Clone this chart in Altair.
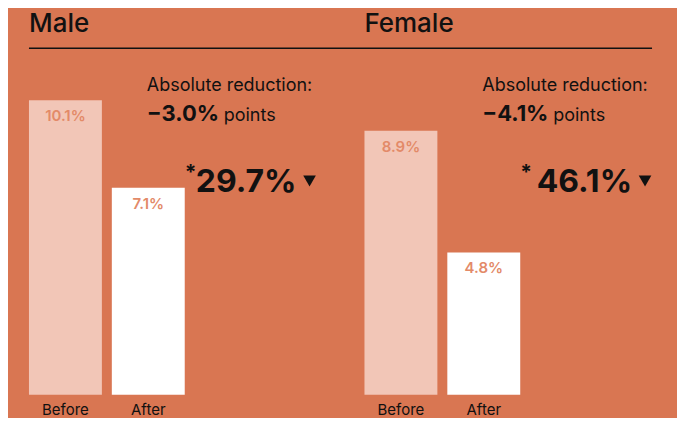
import altair as alt
import pandas as pd

# ---- data ----
groups = ["Male", "Female"]
phases = ["Before", "After"]
before_vals = [10.1, 8.9]
after_vals = [7.1, 4.8]
abs_reduction = ["\u22123.0%", "\u22124.1%"]
rel_reduction = ["29.7%", "46.1%"]

# ---- style / layout ----
BG = "#D97652"
FONT = "Inter"
INK = "#111111"
PANEL_W = 312
PANEL_H = 387
px_per_unit = {"Male": 29.2, "Female": 29.7}
points_x = {"Male": 195, "Female": 189}


def panel(i):
    g = groups[i]
    vals = [before_vals[i], after_vals[i]]
    df = pd.DataFrame({
        "phase": phases,
        "value": vals,
        "label": [f"{v:.1f}%" for v in vals],
    })
    x = alt.X(
        "phase:N", sort=phases,
        scale=alt.Scale(domain=phases, range=[0, 156], paddingInner=0.12, paddingOuter=0),
        axis=alt.Axis(title=None, labelAngle=0, ticks=False, domain=False, grid=False,
                      labelFont=FONT, labelFontSize=15, labelColor=INK,
                      labelPadding=8, labelBaseline="top"),
    )
    y = alt.Y("value:Q", scale=alt.Scale(domain=[0, PANEL_H / px_per_unit[g]], nice=False),
              axis=None)
    bars = alt.Chart(df).mark_bar().encode(
        x=x, y=y,
        color=alt.Color("phase:N", scale=alt.Scale(domain=phases, range=["#F2C6B7", "#FFFFFF"]),
                        legend=None),
    )
    labels = alt.Chart(df).mark_text(
        dy=21, baseline="alphabetic", font=FONT, fontSize=15, fontWeight=600, color="#E38A68"
    ).encode(x=x, y=y, text="label:N")

    ann = alt.Chart(pd.DataFrame({
        "title": [g], "abs": [abs_reduction[i]], "rel": [rel_reduction[i]],
        "lbl": ["Absolute reduction:"], "pts": ["points"], "star": ["*"],
    }))
    title = ann.mark_text(align="left", baseline="alphabetic", font=FONT, fontSize=26,
                          fontWeight=500, color=INK).encode(
        x=alt.value(0), y=alt.value(24), text="title:N")
    layers = [bars, labels, title]
    if i == 0:
        rule = ann.mark_rule(color=INK, strokeWidth=1.5).encode(
            x=alt.value(0), x2=alt.value(624), y=alt.value(40))
        layers.append(rule)
    lbl = ann.mark_text(align="left", baseline="alphabetic", font=FONT, fontSize=18,
                        color=INK).encode(x=alt.value(118), y=alt.value(83), text="lbl:N")
    absv = ann.mark_text(align="left", baseline="alphabetic", font=FONT, fontSize=22,
                         fontWeight=700, color=INK).encode(
        x=alt.value(118), y=alt.value(113), text="abs:N")
    pts = ann.mark_text(align="left", baseline="alphabetic", font=FONT, fontSize=18,
                        color=INK).encode(x=alt.value(points_x[g]), y=alt.value(113), text="pts:N")
    rel = ann.mark_text(align="right", baseline="alphabetic", font=FONT, fontSize=32,
                        fontWeight=700, color=INK).encode(
        x=alt.value(268), y=alt.value(184), text="rel:N")
    star = ann.mark_text(align="center", baseline="alphabetic", font=FONT, fontSize=21,
                         fontWeight=700, color=INK).encode(
        x=alt.value(162), y=alt.value(172), text="star:N")
    tri = ann.mark_point(shape="triangle-down", filled=True, opacity=1, color=INK, size=160).encode(
        x=alt.value(281), y=alt.value(173))
    layers += [lbl, absv, pts, rel, star, tri]
    return alt.layer(*layers).properties(width=PANEL_W, height=PANEL_H)


chart = alt.hconcat(panel(0), panel(1), spacing=24, bounds="flush").properties(
    padding={"left": 20, "top": 0, "right": 1, "bottom": 0},
    background=BG,
).configure_view(stroke=None)

chart.save("out.html", embed_options={"renderer": "svg", "actions": False})
